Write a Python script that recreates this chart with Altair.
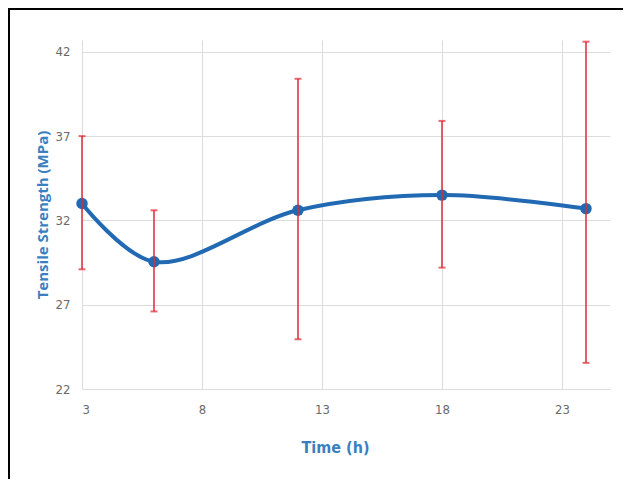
import altair as alt
import pandas as pd

# Data
time_h = [3, 6, 12, 18, 24]
strength = [33.0, 29.55, 32.6, 33.5, 32.7]
err_upper = [37.0, 32.6, 40.4, 37.9, 42.6]
err_lower = [29.1, 26.6, 24.95, 29.2, 23.55]

x_ticks = [3, 8, 13, 18, 23]
y_ticks = [22, 27, 32, 37, 42]

df = pd.DataFrame({
    "time": time_h,
    "strength": strength,
    "upper": err_upper,
    "lower": err_lower,
})

BLUE = "#2269b3"
TITLE_BLUE = "#3a7fc0"
RED = "#e02b35"
NARROW = "Liberation Sans Narrow, DejaVu Sans Condensed, sans-serif"
PLOT_W, PLOT_H = 528, 349

xs = alt.Scale(domain=[3, 25], nice=False, zero=False)
ys = alt.Scale(domain=[22, 42.7], nice=False, zero=False)

x_axis = alt.Axis(
    values=x_ticks, title="Time (h)", grid=True, gridColor="#dcdcdc",
    domain=False, ticks=False, labelPadding=14, labelFontSize=13,
    labelFont=NARROW, labelColor="#6a6a6a",
    titleFont=NARROW, titleFontSize=16, titleFontWeight="bold",
    titleColor=TITLE_BLUE, titleX=253, titleY=58, titleBaseline="middle",
    titleAnchor="start", titleAlign="center",
)
y_axis = alt.Axis(
    values=y_ticks, title="Tensile Strength (MPa)", grid=True, gridColor="#dcdcdc",
    domain=False, ticks=False, labelPadding=12, labelFontSize=13,
    labelFont=NARROW, labelColor="#6a6a6a",
    titleFont="Open Sans", titleFontSize=15, titleFontWeight="bold",
    titleColor=TITLE_BLUE, titleAngle=270, titleX=-40, titleY=PLOT_H / 2,
    titleBaseline="middle", titleAlign="center", titleAnchor="start",
)

base = alt.Chart(df)

line = base.mark_line(color=BLUE, strokeWidth=4, interpolate="catmull-rom").encode(
    x=alt.X("time:Q", scale=xs, axis=x_axis),
    y=alt.Y("strength:Q", scale=ys, axis=y_axis),
)
pts = base.mark_point(filled=True, color=BLUE, size=130, opacity=1).encode(
    x=alt.X("time:Q", scale=xs),
    y=alt.Y("strength:Q", scale=ys),
)
err = base.mark_rule(color=RED, strokeWidth=1.5).encode(
    x=alt.X("time:Q", scale=xs),
    y=alt.Y("lower:Q", scale=ys),
    y2="upper:Q",
)
cap_top = base.mark_tick(color=RED, orient="horizontal", size=7, thickness=2).encode(
    x=alt.X("time:Q", scale=xs),
    y=alt.Y("upper:Q", scale=ys),
)
cap_bot = base.mark_tick(color=RED, orient="horizontal", size=7, thickness=2).encode(
    x=alt.X("time:Q", scale=xs),
    y=alt.Y("lower:Q", scale=ys),
)

# Black frame pieces along the top and left edges
frame_top = alt.Chart(pd.DataFrame({"k": [0]})).mark_rule(color="black", strokeWidth=2).encode(
    x=alt.value(-74), x2=alt.value(541), y=alt.value(-31)
)
frame_left = alt.Chart(pd.DataFrame({"k": [0]})).mark_rule(color="black", strokeWidth=2).encode(
    x=alt.value(-73), y=alt.value(-32), y2=alt.value(439)
)

chart = alt.layer(line, pts, err, cap_top, cap_bot, frame_top, frame_left).properties(
    width=PLOT_W, height=PLOT_H,
    autosize=alt.AutoSizeParams(type="none"),
    padding={"left": 74, "top": 32, "right": 13, "bottom": 90},
    background="white",
).configure_view(stroke=None)

chart.save("out.html", embed_options={"renderer": "svg", "actions": False})
